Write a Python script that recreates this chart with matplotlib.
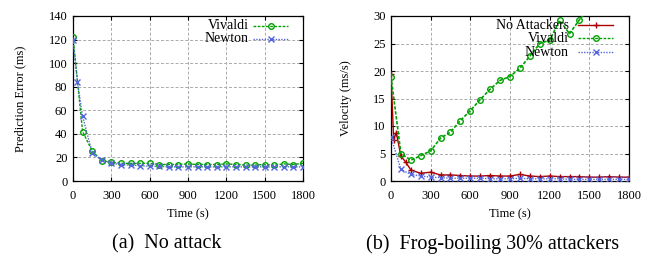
import matplotlib
matplotlib.use("Agg")
import matplotlib.pyplot as plt
from matplotlib.lines import Line2D

plt.rcParams['font.family'] = ['Liberation Serif', 'DejaVu Serif']

# ---- data: (a) No attack ----
a_viv_t = [0, 75, 150, 225, 300, 375, 450, 525, 600, 675, 750, 825, 900, 975,
           1050, 1125, 1200, 1275, 1350, 1425, 1500, 1575, 1650, 1725, 1800]
a_viv_v = [122, 42, 25.5, 17.2, 16, 15, 15, 15, 15, 14, 14, 14, 14.5, 14,
           14, 14, 14.5, 14, 13.5, 13.5, 14, 13.5, 14.5, 14, 15]
a_new_t = [0, 35, 75, 150, 225, 300, 375, 450, 525, 600, 675, 750, 825, 900, 975,
           1050, 1125, 1200, 1275, 1350, 1425, 1500, 1575, 1650, 1725, 1800]
a_new_v = [120, 84, 55, 24, 17.5, 15, 14, 13.5, 13, 12.5, 12.5, 12, 12, 12, 12,
           12, 12, 12, 12, 12, 12, 12, 12, 12, 12, 12]

# ---- data: (b) Frog-boiling 30% attackers ----
b_viv_t = [0, 75, 150, 225, 300, 375, 450, 525, 600, 675, 750, 825, 900, 975,
           1050, 1125, 1200, 1275, 1350, 1425, 1500, 1575, 1650, 1725, 1800]
b_viv_v = [19.0, 5.0, 3.8, 4.6, 5.5, 7.8, 8.9, 11.0, 12.8, 14.8, 16.7, 18.3, 19.0, 20.5,
           22.7, 25.0, 25.6, 29.2, 26.8, 29.3, 31.5, 33.0, 34.5, 36.0, 37.5]
b_noatk_t = [0, 20, 40, 75, 110, 150, 225, 300, 375, 450, 525, 600, 675, 750, 825, 900,
             975, 1050, 1125, 1200, 1275, 1350, 1425, 1500, 1575, 1650, 1725, 1800]
b_noatk_v = [19.5, 7.5, 8.8, 4.5, 3.5, 2.0, 1.4, 1.6, 1.1, 1.1, 1.0, 0.9, 0.9, 1.0, 0.9, 0.9,
             1.2, 0.9, 0.8, 0.9, 0.8, 0.8, 0.8, 0.7, 0.7, 0.8, 0.7, 0.7]
b_new_t = [0, 75, 150, 225, 300, 375, 450, 525, 600, 675, 750, 825, 900, 975,
           1050, 1125, 1200, 1275, 1350, 1425, 1500, 1575, 1650, 1725, 1800]
b_new_v = [8.0, 2.1, 1.2, 0.9, 0.7, 0.6, 0.5, 0.5, 0.5, 0.5, 0.4, 0.4, 0.4, 0.5,
           0.4, 0.4, 0.4, 0.4, 0.3, 0.3, 0.3, 0.3, 0.3, 0.3, 0.3]

x_ticks = [0, 300, 600, 900, 1200, 1500, 1800]

GREEN = '#00a000'
BLUE = '#5566dd'
RED = '#aa0000'

fig = plt.figure(figsize=(6.55, 2.56), dpi=100)
axA = fig.add_axes([73/655, 75/256, 230/655, 165/256])
axB = fig.add_axes([391/655, 75/256, 238/655, 165/256])

FS = 9
MS = 4

def style(ax, ymax, ystep, ylabel, ylab_x):
    ax.set_xlim(0, 1800)
    ax.set_ylim(0, ymax)
    ax.set_xticks(x_ticks)
    ax.set_yticks(list(range(0, ymax + 1, ystep)))
    ax.tick_params(direction='in', top=True, right=True, labelsize=FS, length=3)
    ax.tick_params(axis='x', pad=6.5)
    ax.tick_params(axis='y', pad=4)
    ax.grid(True, color='#aaaaaa', linestyle=(0, (3, 2)), linewidth=0.7)
    ax.set_axisbelow(True)
    ax.set_xlabel('Time (s)', fontsize=FS, va='center')
    ax.xaxis.set_label_coords(0.5, -0.2)
    ax.set_ylabel(ylabel, fontsize=FS, va='center')
    ax.yaxis.set_label_coords(ylab_x, 0.5)
    for s in ax.spines.values():
        s.set_linewidth(0.9)

def legend_entry(ax, ypos, x_text, x0, x1, label, color, ls, marker, ms, mew):
    ax.text(x_text, ypos, label, transform=ax.transAxes, ha='right', va='center',
            fontsize=FS + 1, zorder=5)
    ax.add_line(Line2D([x0, (x0 + x1) / 2, x1], [ypos, ypos, ypos], transform=ax.transAxes,
                       color=color, linestyle=ls, marker=marker, markevery=[1],
                       markersize=ms, markerfacecolor='none', markeredgewidth=mew,
                       linewidth=1.0, zorder=5, clip_on=False))

# (a)
axA.plot(a_viv_t, a_viv_v, color=GREEN, linestyle=(0, (2, 1)), linewidth=1.0,
         marker='o', markersize=MS, markerfacecolor='none', markeredgewidth=1.0, zorder=3)
axA.plot(a_new_t, a_new_v, color=BLUE, linestyle=(0, (1, 1)), linewidth=1.0,
         marker='x', markersize=MS, markeredgewidth=1.0, zorder=3)
style(axA, 140, 20, 'Prediction Error (ms)', -0.23)
legend_entry(axA, 0.941, 0.765, 0.783, 0.935, 'Vivaldi', GREEN, (0, (2, 1)), 'o', MS, 1.0)
legend_entry(axA, 0.861, 0.765, 0.783, 0.935, 'Newton', BLUE, (0, (1, 1)), 'x', MS, 1.0)

# (b)
axB.plot(b_noatk_t, b_noatk_v, color=RED, linestyle='-', linewidth=1.0,
         marker='+', markersize=5, markeredgewidth=1.0, zorder=3)
axB.plot(b_viv_t, b_viv_v, color=GREEN, linestyle=(0, (2, 1)), linewidth=1.2,
         marker='o', markersize=MS, markerfacecolor='none', markeredgewidth=1.0, zorder=3)
axB.plot(b_new_t, b_new_v, color=BLUE, linestyle=(0, (1, 1)), linewidth=1.0,
         marker='x', markersize=MS, markeredgewidth=1.0, zorder=3)
style(axB, 30, 5, 'Velocity (ms/s)', -0.19)
legend_entry(axB, 0.945, 0.748, 0.786, 0.933, 'No Attackers', RED, '-', '+', 5, 1.0)
legend_entry(axB, 0.865, 0.748, 0.786, 0.933, 'Vivaldi', GREEN, (0, (2, 1)), 'o', MS, 1.0)
legend_entry(axB, 0.780, 0.748, 0.786, 0.933, 'Newton', BLUE, (0, (1, 1)), 'x', MS, 1.0)

fig.text(167/655, 1 - 244/256, '(a)  No attack', ha='center', va='center', fontsize=14.5)
fig.text(493/655, 1 - 244/256, '(b)  Frog-boiling 30% attackers', ha='center', va='center', fontsize=14.5)

fig.savefig('out.png', dpi=100)
